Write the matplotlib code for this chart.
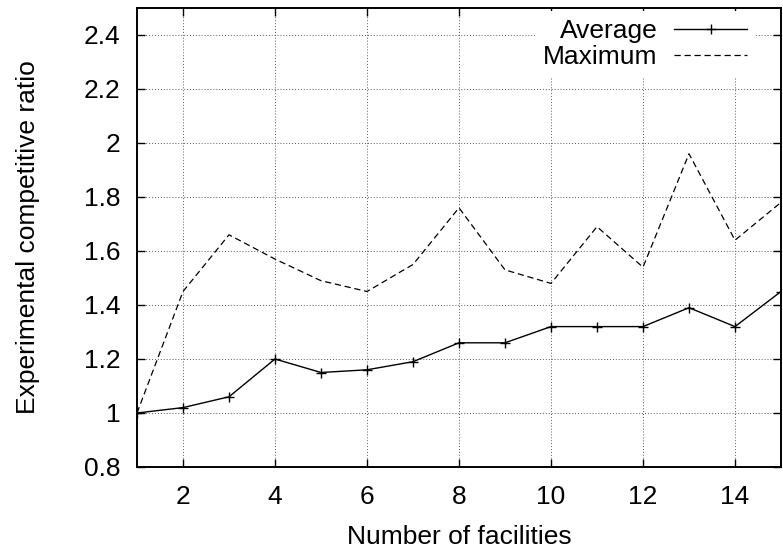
import numpy as np
import matplotlib
matplotlib.use('Agg')
import matplotlib.pyplot as plt

# data
facilities = [1, 2, 3, 4, 5, 6, 7, 8, 9, 10, 11, 12, 13, 14, 15]
average = [1.00, 1.02, 1.06, 1.20, 1.15, 1.16, 1.19, 1.26, 1.26, 1.32, 1.32, 1.32, 1.39, 1.32, 1.45]
maximum = [1.00, 1.45, 1.66, 1.57, 1.49, 1.45, 1.55, 1.76, 1.53, 1.48, 1.69, 1.54, 1.96, 1.64, 1.78]
xticks = [2, 4, 6, 8, 10, 12, 14]
yticks = [0.8, 1.0, 1.2, 1.4, 1.6, 1.8, 2.0, 2.2, 2.4]
ytick_labels = ['0.8', '1', '1.2', '1.4', '1.6', '1.8', '2', '2.2', '2.4']

plt.rc('font', **{'family': 'sans-serif', 'sans-serif': ['Liberation Sans'], 'size': 19})

fig = plt.figure(figsize=(7.83, 5.51), dpi=100)
ax = fig.add_axes([137 / 783., 84 / 551., 644 / 783., 459 / 551.])

ax.plot(facilities, average, color='k', lw=1.0, marker='+', markersize=7, mew=1.0, label='Average')
ax.plot(facilities, maximum, color='k', lw=0.9, dashes=(5, 3), label='Maximum')

ax.set_xlim(1, 15)
ax.set_ylim(0.8, 2.5)
ax.set_xticks(xticks)
ax.set_yticks(yticks)
ax.set_yticklabels(ytick_labels)
ax.tick_params(direction='in', length=5.5, width=1.0, top=True, right=True, pad=12)
ax.tick_params(axis='x', pad=13)
for s in ax.spines.values():
    s.set_linewidth(1.4)

ax.grid(True, color='0.35', linestyle=(0, (1, 2)), linewidth=0.7)
ax.set_axisbelow(True)

ax.set_xlabel('Number of facilities', va='center')
ax.xaxis.set_label_coords(0.5, -0.152)
ax.set_ylabel('Experimental competitive ratio', va='center')
ax.yaxis.set_label_coords(-0.17, 0.5)

leg = ax.legend(loc='upper right', bbox_to_anchor=(0.96, 0.993), frameon=True,
                facecolor='white', edgecolor='none', framealpha=1.0, fancybox=False,
                markerfirst=False, handlelength=2.77, handletextpad=0.64,
                labelspacing=0.08, borderpad=0.3, borderaxespad=0)
for t in leg.get_texts():
    t.set_ha('right')

fig.savefig('out.png', dpi=100)
